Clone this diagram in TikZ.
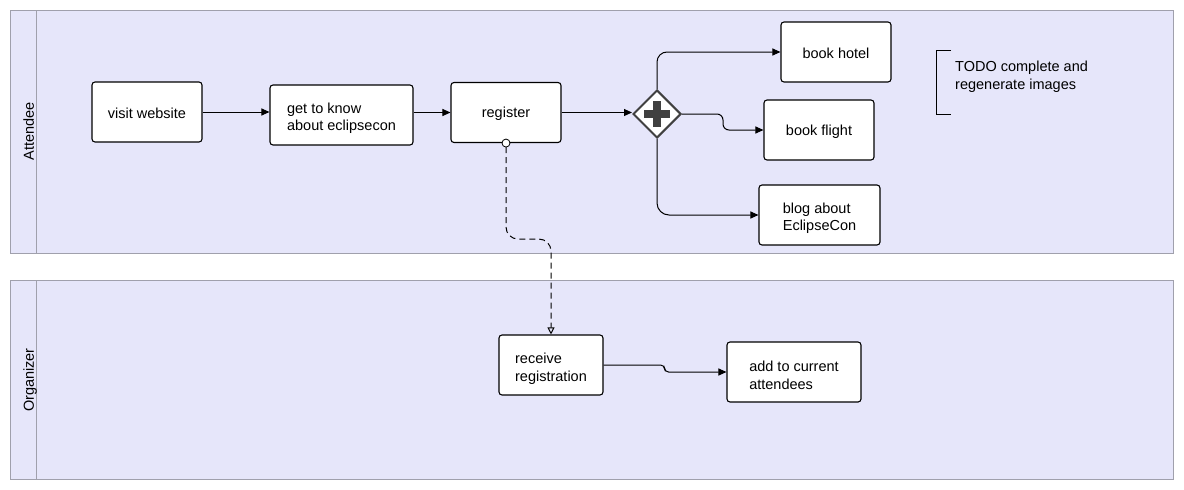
\documentclass[tikz,border=0pt]{standalone}
\usepackage{fontspec}
\setmainfont{Liberation Sans}
\usepackage{tikz}
\usetikzlibrary{shapes.geometric,arrows.meta,positioning,calc}

\definecolor{lanefill}{RGB}{230,230,250}
\definecolor{laneline}{RGB}{160,160,172}
\definecolor{gwgray}{RGB}{64,64,64}

\begin{document}
\begin{tikzpicture}[
    x=1pt, y=-1pt,
    font=\fontsize{14.5}{17.5}\selectfont,
    lane/.style={draw=laneline, fill=lanefill, line width=1pt},
    task/.style={draw, fill=white, rounded corners=3pt, minimum height=60pt, inner sep=2pt, text height=14pt, align=left, line width=1.1pt},
    task2/.style={task, text height=35pt},
    gateway/.style={diamond, draw=gwgray, fill=white, line width=2pt, minimum width=48pt, minimum height=48pt, inner sep=0pt},
    seqflow/.style={-{Triangle[length=8pt,width=7pt]}, line width=1pt},
    msgflow/.style={-{Triangle[open,length=7pt,width=7pt]}, line width=1pt, dash pattern=on 6pt off 4pt, rounded corners=12pt}
]
\useasboundingbox (0,0) rectangle (1184,490);

% pools
\draw[lane] (10,10) rectangle (1173,253);
\draw[laneline, line width=1pt] (36,10) -- (36,253);
\draw[lane] (10,280) rectangle (1173,479);
\draw[laneline, line width=1pt] (36,280) -- (36,479);
\node[rotate=90, anchor=base] (attendee) at (34,131) {Attendee};
\node[rotate=90, anchor=base] (organizer) at (34,380) {Organizer};

% attendee tasks
\node[task, minimum width=110pt] (visit) at (147,112) {visit website};
\node[task2, minimum width=143pt] (know) at (341.5,115) {get to know\\about eclipsecon};
\node[task, minimum width=110pt] (reg) at (506,112.5) {register};
\node[gateway] (gw) at (657,114) {};
\draw[gwgray, line width=8pt] (gw.center) ++(-13,0) -- ++(26,0);
\draw[gwgray, line width=8pt] (gw.center) ++(0,-13) -- ++(0,26);
\node[task, minimum width=110pt] (hotel) at (836,52) {book hotel};
\node[task, minimum width=110pt] (flight) at (819,130) {book flight};
\node[task2, minimum width=121pt] (blog) at (819.5,215) {blog about\\EclipseCon};

% annotation
\node[anchor=north west, align=left, inner sep=0pt] (todo) at (955,61) {TODO complete and\\regenerate images};
\draw[line width=1pt] (951,50) -- (936,50) -- (936,114) -- (951,114);

% organizer tasks
\node[task2, minimum width=104pt] (recv) at (551,365) {receive\\registration};
\node[task2, minimum width=134pt] (add) at (794,372) {add to current\\attendees};

% sequence flows
\draw[seqflow] (visit.east) -- (visit.east -| know.west);
\draw[seqflow] (know.east |- reg.west) -- (reg.west);
\draw[seqflow] (reg.east) -- (reg.east -| gw.west);
\draw[seqflow, rounded corners=10pt] (gw.north) |- (hotel.west);
\draw[seqflow, rounded corners=6pt] (gw.east) -- ++(41,0) |- (flight.west);
\draw[seqflow, rounded corners=12pt] (gw.south) |- (blog.west);
\draw[seqflow, rounded corners=4pt] (recv.east) -- ++(61,0) |- (add.west);

% message flow
\draw[msgflow] ([yshift=-4pt]reg.south) -- ++(0,92) -| (recv.north);
\draw[fill=white, line width=0.8pt] (reg.south) circle (4pt);
\end{tikzpicture}
\end{document}
